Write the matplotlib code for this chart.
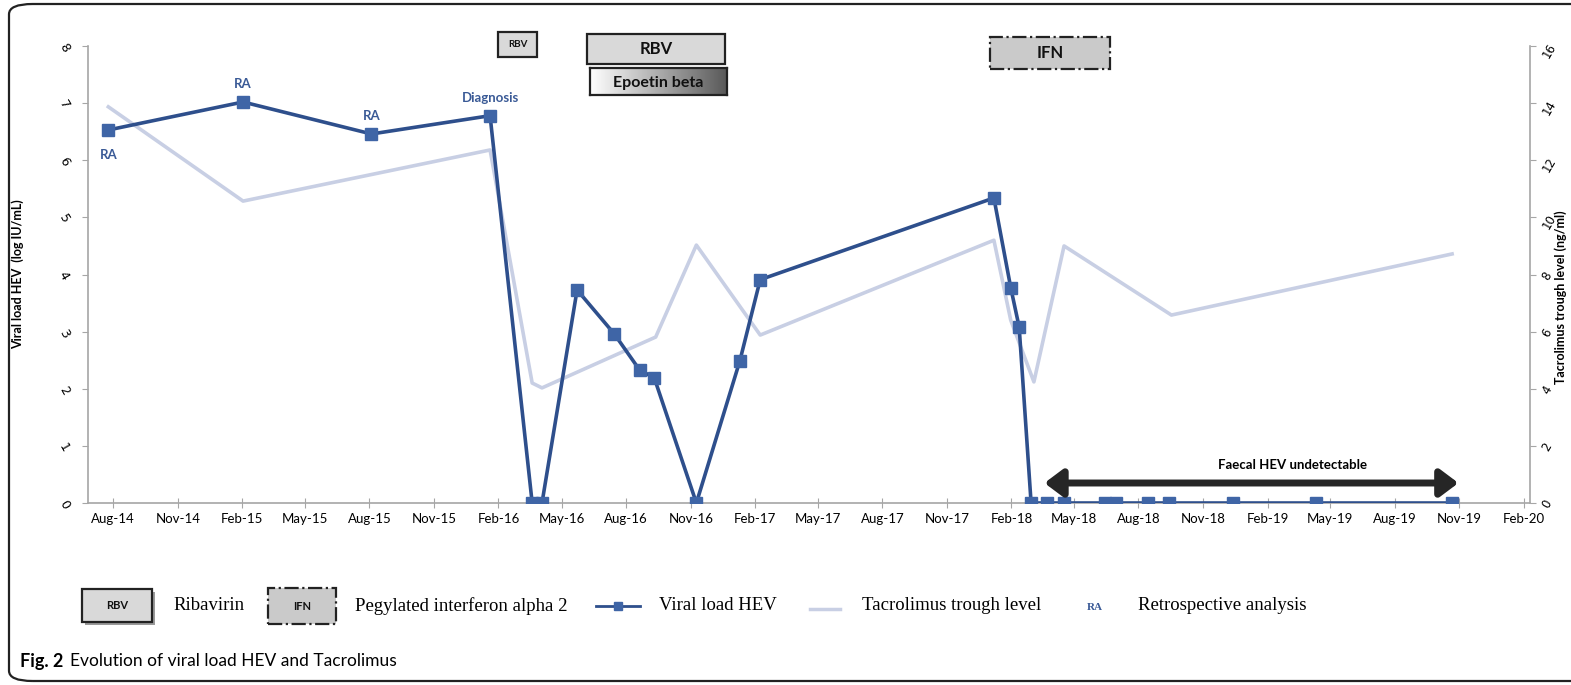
import numpy as np
import pandas as pd
import matplotlib
matplotlib.use("Agg")
import matplotlib.pyplot as plt
import matplotlib.dates as mdates
from matplotlib.patches import Rectangle, FancyBboxPatch, FancyArrowPatch
from matplotlib.lines import Line2D

# viral load HEV (log IU/mL)
vl_dates = ['2014-07-25', '2015-02-02', '2015-08-04', '2016-01-20', '2016-03-20',
            '2016-04-03', '2016-05-23', '2016-07-15', '2016-08-20', '2016-09-10',
            '2016-11-09', '2017-01-10', '2017-02-08', '2018-01-07', '2018-01-31',
            '2018-02-12', '2018-03-01', '2018-03-24', '2018-04-17', '2018-06-14',
            '2018-06-30', '2018-08-14', '2018-09-14', '2018-12-14', '2019-04-11',
            '2019-10-22']
vl_values = [6.53, 7.02, 6.46, 6.78, 0, 0, 3.73, 2.96, 2.33, 2.19, 0, 2.49, 3.91,
             5.34, 3.77, 3.08, 0, 0, 0, 0, 0, 0, 0, 0, 0, 0]

# tacrolimus trough level (ng/ml)
tac_dates = ['2014-07-25', '2015-02-02', '2016-01-20', '2016-03-20', '2016-04-03',
             '2016-09-12', '2016-11-09', '2017-02-08', '2018-01-07', '2018-01-31',
             '2018-03-05', '2018-04-17', '2018-09-17', '2019-10-22']
tac_values = [13.87, 10.57, 12.36, 4.2, 4.03, 5.81, 9.03, 5.88, 9.2, 6.4, 4.24,
              9.0, 6.58, 8.72]

ra_labels = [('RA', '2014-07-25', 6.53, 'below'), ('RA', '2015-02-02', 7.02, 'above'),
             ('RA', '2015-08-04', 6.46, 'above'), ('Diagnosis', '2016-01-20', 6.78, 'above')]

vl_x = pd.to_datetime(vl_dates)
tac_x = pd.to_datetime(tac_dates)

W, H = 1571, 685
fig = plt.figure(figsize=(W / 100, H / 100), dpi=100)


def fx(px):
    return px / W


def fy(py):
    return 1 - py / H


dark = '#2E4F8C'
mark = '#3F65A6'
light = '#C8CFE4'
lab_col = '#3A5A96'
axcol = '#A6A6A6'

ax = fig.add_axes([fx(88), fy(503), fx(1530) - fx(88), fy(46) - fy(503)])
ax2 = ax.twinx()

ax2.plot(tac_x, tac_values, color=light, lw=2.6, zorder=1)
ax.plot(vl_x, vl_values, color=dark, lw=2.6, marker='s', ms=8, mfc=mark, mec=mark,
        zorder=3)
ax.set_zorder(ax2.get_zorder() + 1)
ax.patch.set_visible(False)

ax.set_xlim(pd.Timestamp('2014-06-26'), pd.Timestamp('2020-02-10'))
ax.set_ylim(0, 8)
ax2.set_ylim(0, 16)
ax.set_yticks(range(0, 9))
ax2.set_yticks(range(0, 17, 2))

ax.xaxis.set_major_locator(mdates.MonthLocator(bymonth=[2, 5, 8, 11]))
ax.xaxis.set_major_formatter(mdates.DateFormatter('%b-%y'))

for a in (ax, ax2):
    a.spines['top'].set_visible(False)
    for s in ['left', 'right', 'bottom']:
        a.spines[s].set_color(axcol)
        a.spines[s].set_linewidth(1.2)
ax.spines['right'].set_visible(False)
ax2.spines['left'].set_visible(False)
ax2.spines['bottom'].set_visible(False)

ax.tick_params(axis='x', direction='inout', length=7, color=axcol, labelsize=9.5,
               pad=4)
ax.tick_params(axis='y', direction='out', length=4, color=axcol, labelsize=9,
               labelrotation=-60, pad=8)
ax2.tick_params(axis='y', direction='out', length=4, color=axcol, labelsize=8.5,
                labelrotation=60, pad=3)
for t in ax.get_xticklabels():
    t.set_fontfamily('Lato')

ax.set_ylabel('Viral load HEV  (log IU/mL)', fontsize=9, fontweight='bold',
              fontfamily='Lato')
ax.yaxis.set_label_coords(-0.044, 0.5)
ax2.set_ylabel('Tacrolimus trough level (ng/ml)', fontsize=9, fontweight='bold',
               fontfamily='Lato', va='center')
ax2.yaxis.set_label_coords(1.0215, 0.45)

for txt, d, v, pos in ra_labels:
    off = -18 if pos == 'below' else 13
    ax.annotate(txt, (pd.Timestamp(d), v), xytext=(0, off), textcoords='offset points',
                ha='center', va='center', fontsize=9.5, fontweight='bold',
                color=lab_col, fontfamily='Lato')

# faecal HEV arrow
arr = FancyArrowPatch((pd.Timestamp('2018-03-20'), 0.35), (pd.Timestamp('2019-10-31'), 0.35),
                      arrowstyle='<|-|>,head_length=0.6,head_width=0.45', mutation_scale=18,
                      lw=5, color='#262626', shrinkA=0, shrinkB=0, zorder=4)
ax.add_patch(arr)
ax.text(pd.Timestamp('2019-03-09'), 0.66, 'Faecal HEV undetectable', ha='center',
        va='center', fontsize=9.5, fontweight='bold', fontfamily='Lato', zorder=5)


def box(x0, y0, x1, y1, label, ls='-', fc='#D9D9D9', fs=10, shadow=False):
    if shadow:
        fig.add_artist(Rectangle((fx(x0 + 3), fy(y1 + 3)), fx(x1 - x0), fy(y0) - fy(y1),
                                 transform=fig.transFigure, fc='#9A9A9A', ec='none'))
    fig.add_artist(Rectangle((fx(x0), fy(y1)), fx(x1 - x0), fy(y0) - fy(y1),
                             transform=fig.transFigure, fc=fc, ec='#222222', lw=1.6,
                             ls=ls))
    fig.text(fx((x0 + x1) / 2), fy((y0 + y1) / 2), label, ha='center', va='center',
             fontsize=fs, fontweight='bold', fontfamily='Lato', color='#111111')


box(498, 32, 537, 57, 'RBV', fs=7)
box(587, 34, 725, 64, 'RBV', fs=12)
box(990, 37, 1110, 69, 'IFN', ls='-.', fc='#CACACA', fs=12)

# epoetin beta gradient box
eax = fig.add_axes([fx(590), fy(95), fx(727) - fx(590), fy(68) - fy(95)])
grad = np.linspace(1.0, 0.35, 200).reshape(1, -1)
eax.imshow(grad, cmap='gray', vmin=0, vmax=1, aspect='auto', extent=[0, 1, 0, 1])
eax.set_xticks([])
eax.set_yticks([])
for s in eax.spines.values():
    s.set_color('#222222')
    s.set_linewidth(1.6)
eax.text(0.5, 0.45, 'Epoetin beta', ha='center', va='center', fontsize=11.5,
         fontweight='bold', fontfamily='Lato', color='#111111', transform=eax.transAxes)

# legend row
box(82, 589, 152, 622, 'RBV', fs=8, shadow=True)
box(268, 588, 336, 624, 'IFN', ls='-.', fc='#CACACA', fs=8)
serif = 'Liberation Serif'
lfs = 13.5
ly = fy(606)
fig.text(fx(173), ly, 'Ribavirin', fontsize=lfs, fontfamily=serif, va='center')
fig.text(fx(355), ly, 'Pegylated interferon alpha 2', fontsize=lfs, fontfamily=serif,
         va='center')
fig.add_artist(Line2D([fx(596), fx(640)], [ly, ly], transform=fig.transFigure,
                      color=dark, lw=2))
fig.add_artist(Line2D([fx(618)], [ly], transform=fig.transFigure, marker='s', ms=6,
                      color=mark, lw=0))
fig.text(fx(659), ly, 'Viral load HEV', fontsize=lfs, fontfamily=serif, va='center')
fig.add_artist(Line2D([fx(810), fx(840)], [fy(609), fy(609)], transform=fig.transFigure,
                      color=light, lw=2.5))
fig.text(fx(862), ly, 'Tacrolimus trough level', fontsize=lfs, fontfamily=serif,
         va='center')
fig.text(fx(1095), fy(608), 'RA', fontsize=8, fontfamily=serif, va='center', ha='center',
         color=lab_col, fontweight='bold')
fig.text(fx(1138), ly, 'Retrospective analysis', fontsize=lfs, fontfamily=serif,
         va='center')

# caption
fig.text(fx(20), fy(661), 'Fig. 2', fontsize=13, va='center', fontweight='bold',
         fontfamily='Lato')
fig.text(fx(70), fy(661), 'Evolution of viral load HEV and Tacrolimus', fontsize=12.5,
         va='center', fontfamily='Lato')

# outer frame
fig.add_artist(FancyBboxPatch((fx(9), fy(681)), fx(1600), fy(4) - fy(681),
                              boxstyle='round,pad=0,rounding_size=0.015',
                              transform=fig.transFigure, fc='none', ec='#222222', lw=1.6))

fig.savefig('out.png', dpi=100)
